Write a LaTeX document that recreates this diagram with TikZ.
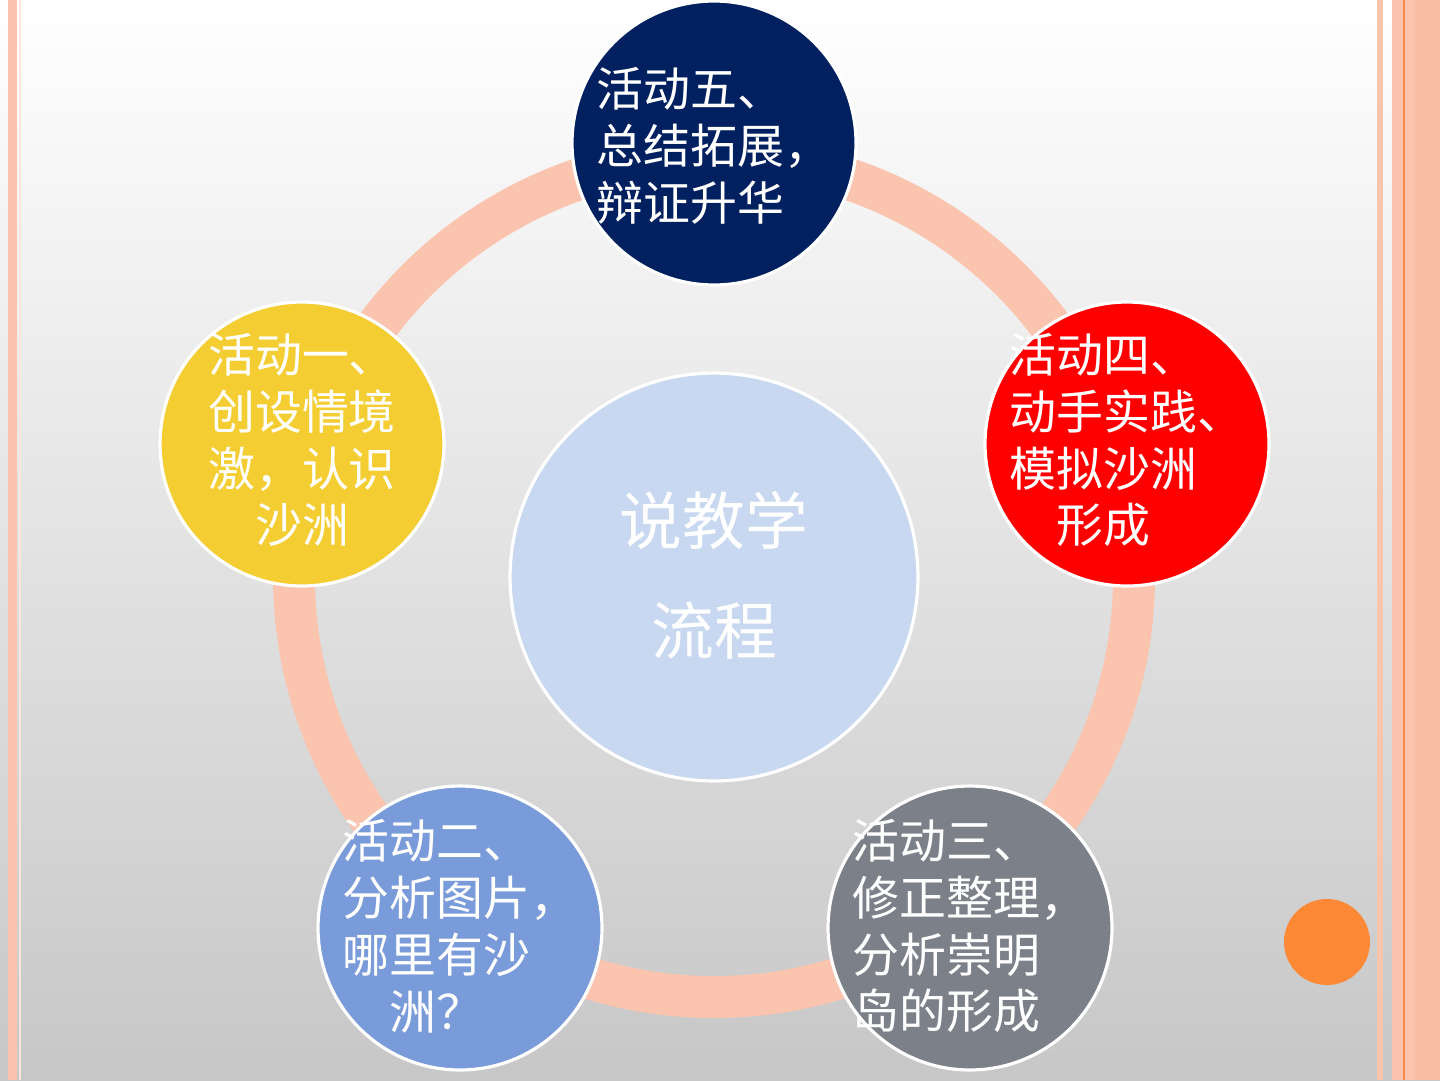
\documentclass[tikz,border=0pt]{standalone}
\usepackage{fontspec}
\newfontfamily\cjk{Noto Sans CJK SC}
\usepackage{tikz}
\usepackage{xcolor}
\definecolor{peach}{RGB}{250,196,175}
\definecolor{deeppeach}{RGB}{250,190,166}
\definecolor{navy}{RGB}{0,32,96}
\definecolor{redact}{RGB}{255,0,0}
\definecolor{goldact}{RGB}{244,205,50}
\definecolor{blueact}{RGB}{122,155,217}
\definecolor{grayact}{RGB}{124,128,136}
\definecolor{hubblue}{RGB}{200,216,240}
\definecolor{dotorange}{RGB}{253,136,54}
\definecolor{lineorange}{RGB}{247,140,70}
\tikzset{%
    act/.style={%
        circle, draw=white, line width=1.8pt, minimum size=5.68cm, inner sep=0pt
    },
    acttext/.style={%
        text=white, align=left, inner sep=0pt,
        font=\cjk\fontsize{26.7}{32.4}\selectfont
    },
    hubtext/.style={%
        text=white, align=center, inner sep=0pt,
        font=\cjk\fontsize{35.7}{62.6}\selectfont
    }
}
\begin{document}
\begin{tikzpicture}[x=0.02cm,y=-0.02cm]
    \shade[top color=white, bottom color=black!22] (0,0) rectangle (1440,1080);
    \useasboundingbox (0,0) rectangle (1440,1080);
%-----------------------------------------------
    \fill[peach] (8,0) rectangle (17,1080);
    \fill[peach!40] (19,0) rectangle (21,1080);
    \fill[peach] (1377,0) rectangle (1383,1080);
    \fill[peach] (1392,0) rectangle (1440,1080);
    \fill[deeppeach] (1415,0) rectangle (1440,1080);
    \fill[lineorange] (1403,0) rectangle (1405,1080);
%-----------------------------------------------
    \draw[peach, line width=0.84cm] (714,577) circle (420);
%-----------------------------------------------
    \node[circle, draw=white, line width=1.8pt, minimum size=8.16cm, fill=hubblue] (hub) at (714,577) {};
    \node[hubtext] at (714,575) {说教学\\流程};
%-----------------------------------------------
    \node[act, fill=navy] (act5) at (714,143) {};
    \node[act, fill=redact] (act4) at (1127,444) {};
    \node[act, fill=grayact] (act3) at (970,928) {};
    \node[act, fill=blueact] (act2) at (460,928) {};
    \node[act, fill=goldact] (act1) at (302,444) {};
%-----------------------------------------------
    \node[acttext] at ([yshift=-0.06cm]act5) {活动五、\\总结拓展，\\辩证升华};
    \node[acttext] at ([yshift=0.08cm]act4) {活动四、\\动手实践、\\模拟沙洲\\\hspace*{1em}形成};
    \node[acttext] at ([yshift=0.04cm]act3) {活动三、\\修正整理，\\分析崇明\\岛的形成};
    \node[acttext] at ([yshift=0.04cm]act2) {活动二、\\分析图片，\\哪里有沙\\\hspace*{1em}洲？};
    \node[acttext] at ([yshift=0.08cm]act1) {活动一、\\创设情境\\激，认识\\\hspace*{1em}沙洲};
%-----------------------------------------------
    \fill[dotorange] (1327,942) circle (43);
\end{tikzpicture}
\end{document}
